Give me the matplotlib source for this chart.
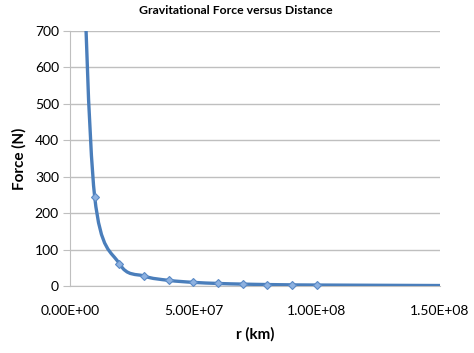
import matplotlib
matplotlib.use("Agg")
import matplotlib.pyplot as plt
from matplotlib.path import Path
from matplotlib.patches import PathPatch
import numpy as np

# data
r_km = [5.0e6, 1.0e7, 2.0e7, 3.0e7, 4.0e7, 5.0e7, 6.0e7, 7.0e7, 8.0e7, 9.0e7, 1.0e8, 1.5e8]
force_N = [980, 245, 61, 27, 15.3, 9.8, 6.8, 5.0, 3.8, 3.0, 2.45, 1.1]
marker_r = r_km[1:11]
marker_f = force_N[1:11]
y_ticks = [0, 100, 200, 300, 400, 500, 600, 700]
x_ticks = [0, 5.0e7, 1.0e8, 1.5e8]
x_labels = ["0.00E+00", "5.00E+07", "1.00E+08", "1.50E+08"]

plt.rcParams['font.family'] = ['Lato', 'DejaVu Sans']
line_c = "#4A7EBB"
fig = plt.figure(figsize=(4.74, 3.53), dpi=100)
ax = fig.add_axes([0.1477, 0.19, 0.7806, 0.722])
ax.set_xlim(0, 1.5e8)
ax.set_ylim(0, 700)

# smoothed line (Catmull-Rom style bezier through the points)
x = np.array(r_km, float); y = np.array(force_N, float)
verts = [(x[0], y[0])]; codes = [Path.MOVETO]
t = 1/6
for i in range(len(x) - 1):
    x0, y0 = (x[i-1], y[i-1]) if i > 0 else (x[i], y[i])
    x3, y3 = (x[i+2], y[i+2]) if i + 2 < len(x) else (x[i+1], y[i+1])
    c1 = (x[i] + (x[i+1] - x0) * t, y[i] + (y[i+1] - y0) * t)
    c2 = (x[i+1] - (x3 - x[i]) * t, y[i+1] - (y3 - y[i]) * t)
    verts += [c1, c2, (x[i+1], y[i+1])]
    codes += [Path.CURVE4] * 3
patch = PathPatch(Path(verts, codes), facecolor="none", edgecolor=line_c, lw=2.4,
                  transform=ax.transData, clip_on=True, zorder=3)
ax.add_patch(patch)
ax.plot(marker_r, marker_f, linestyle="none", marker="D", ms=4.5,
        mfc="#8DB1E0", mec="#5A8AC6", mew=0.8, zorder=4, clip_on=False)

ax.set_yticks(y_ticks)
ax.set_xticks(x_ticks)
ax.set_xticklabels(x_labels)
ax.grid(axis="y", color="#BFBFBF", lw=1)
ax.set_axisbelow(True)
for s in ["top", "right"]:
    ax.spines[s].set_visible(False)
for s in ["left", "bottom"]:
    ax.spines[s].set_color("#BFBFBF")
ax.tick_params(axis="y", length=5, color="#BFBFBF", labelsize=10, pad=3)
ax.tick_params(axis="x", length=0, labelsize=10, pad=14)
fig.suptitle("Gravitational Force versus Distance", x=0.497, y=0.985, va="top",
             fontsize=8.8, fontweight="bold")
ax.set_xlabel("r (km)", fontsize=11, fontweight="bold", labelpad=7)
ax.set_ylabel("Force (N)", fontsize=11, fontweight="bold", labelpad=6)
fig.savefig("out.png", dpi=100)
